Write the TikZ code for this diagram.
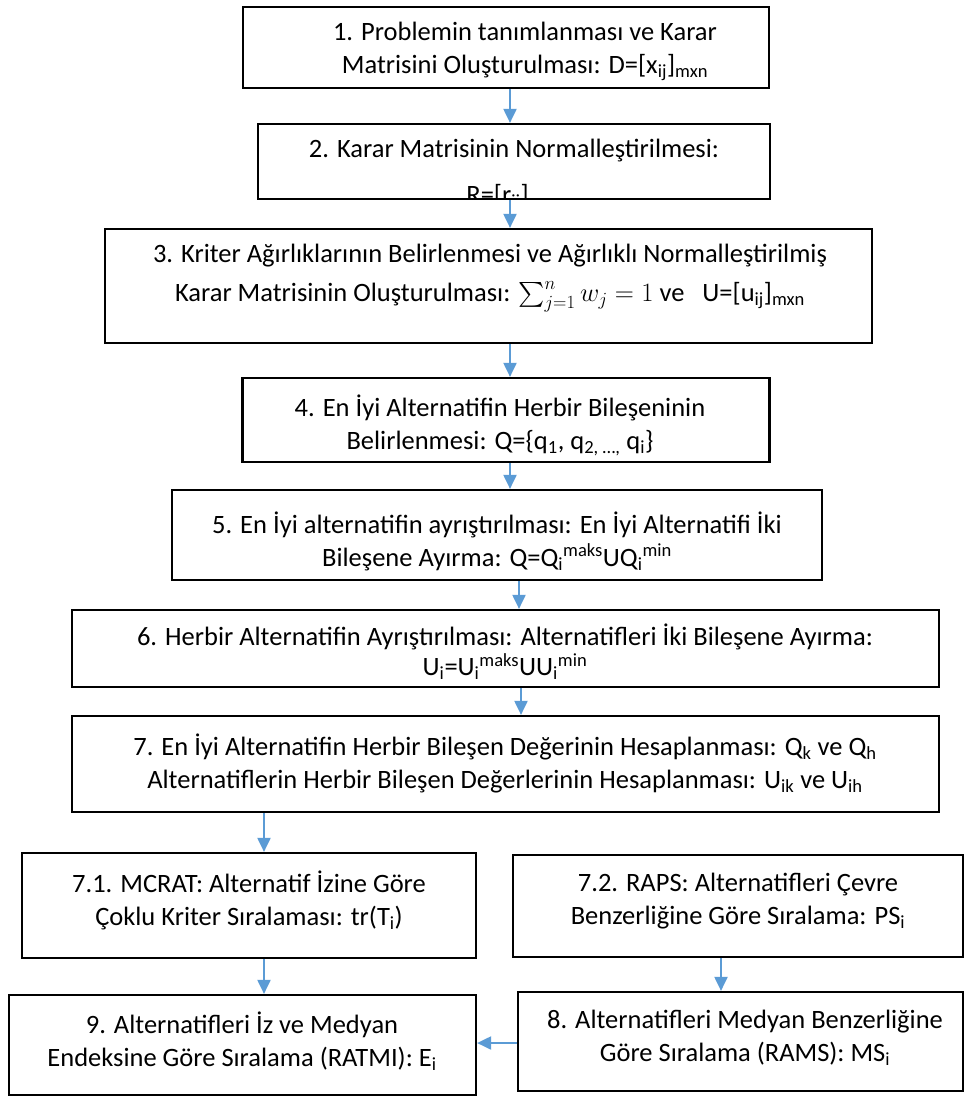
\RequirePackage{fix-cm}
\documentclass[tikz,border=0pt]{standalone}
\usepackage{exscale}
\usepackage{fontspec}
\setmainfont{Carlito}
\usetikzlibrary{arrows.meta}
\definecolor{flowblue}{HTML}{5B9BD5}
\tikzset{
  box/.style={draw, line width=2.2pt, inner sep=0pt},
  txt/.style={align=center, inner sep=0pt, font=\fontsize{26.5}{33}\selectfont},
  flow/.style={draw=flowblue, line width=2pt, -{Triangle[width=13pt,length=14pt]}},
}
\begin{document}
\begin{tikzpicture}[x=1pt,y=-1pt]
    \useasboundingbox (0,0) rectangle (964,1097);
    % clipped second line of step 2 (drawn under the box)
        \begin{scope}
            \clip (258,124) rectangle (770,199);
            \node[txt] (t2) at (514,175) {2. Karar Matrisinin Normalleştirilmesi:\\[13pt]R=[r\textsubscript{ij}]\textsubscript{mxn}};
        \end{scope}
    % boxes
        \node[box, minimum width=526pt, minimum height=81pt] (b1) at (506,47.5) {};
        \node[box, minimum width=512pt, minimum height=75pt] (b2) at (514,161.5) {};
        \node[box, minimum width=767pt, minimum height=114pt] (b3) at (488.5,286) {};
        \node[box, minimum width=527pt, minimum height=84pt] (b4) at (506,420) {};
        \node[box, minimum width=650pt, minimum height=90pt] (b5) at (497,535) {};
        \node[box, minimum width=867pt, minimum height=77pt] (b6) at (505.5,648.5) {};
        \node[box, minimum width=867pt, minimum height=96pt] (b7) at (505.5,764) {};
        \node[box, minimum width=454pt, minimum height=105pt] (b71) at (249,905.5) {};
        \node[box, minimum width=450pt, minimum height=102pt] (b72) at (738,906) {};
        \node[box, minimum width=467pt, minimum height=100pt] (b9) at (242.5,1045) {};
        \node[box, minimum width=445pt, minimum height=99pt] (b8) at (740.5,1041.5) {};
    % texts
        \node[txt] (t1) at (525,51) {1. Problemin tanımlanması ve Karar\\Matrisini Oluşturulması: D=[x\textsubscript{ij}]\textsubscript{mxn}};
        \node[txt] (t3) at (490,278) {3. Kriter Ağırlıklarının Belirlenmesi ve Ağırlıklı Normalleştirilmiş\\[6pt]Karar Matrisinin Oluşturulması: $\sum_{j=1}^{n} w_j = 1$ ve \ \ U=[u\textsubscript{ij}]\textsubscript{mxn}};
        \node[txt] (t4) at (500,425) {4. En İyi Alternatifin Herbir Bileşeninin\\Belirlenmesi: Q=\{q\textsubscript{1}, q\textsubscript{2, …,} q\textsubscript{i}\}};
        \node[txt] (t5) at (497,541.5) {5. En İyi alternatifin ayrıştırılması: En İyi Alternatifi İki\\Bileşene Ayırma: Q=Q\textsubscript{i}\textsuperscript{maks}UQ\textsubscript{i}\textsuperscript{min}};
        \node[txt] (t6) at (505,652) {6. Herbir Alternatifin Ayrıştırılması: Alternatifleri İki Bileşene Ayırma:\\[-3pt]U\textsubscript{i}=U\textsubscript{i}\textsuperscript{maks}UU\textsubscript{i}\textsuperscript{min}};
        \node[txt] (t7) at (505,763) {7. En İyi Alternatifin Herbir Bileşen Değerinin Hesaplanması: Q\textsubscript{k} ve Q\textsubscript{h}\\Alternatiflerin Herbir Bileşen Değerlerinin Hesaplanması: U\textsubscript{ik} ve U\textsubscript{ih}};
        \node[txt] (t71) at (249,900) {7.1. MCRAT: Alternatif İzine Göre\\Çoklu Kriter Sıralaması: tr(T\textsubscript{i})};
        \node[txt] (t72) at (738,901.5) {7.2. RAPS: Alternatifleri Çevre\\Benzerliğine Göre Sıralama: PS\textsubscript{i}};
        \node[txt] (t9) at (242,1041) {9. Alternatifleri İz ve Medyan\\Endeksine Göre Sıralama (RATMI): E\textsubscript{i}};
        \node[txt] (t8) at (745,1037.5) {8. Alternatifleri Medyan Benzerliğine\\Göre Sıralama (RAMS): MS\textsubscript{i}};
    % arrows
        \foreach \a/\b/\x in {b1/b2/510,b2/b3/510,b3/b4/510,b4/b5/510,b5/b6/519,b6/b7/521,b7/b71/264,b71/b9/264,b72/b8/721}{
            \draw[flow] (\a.south -| \x,0) -- (\b.north -| \x,0);
        }
        \draw[flow] (b8.west |- 0,1043) -- (b9.east |- 0,1043);
\end{tikzpicture}
\end{document}
